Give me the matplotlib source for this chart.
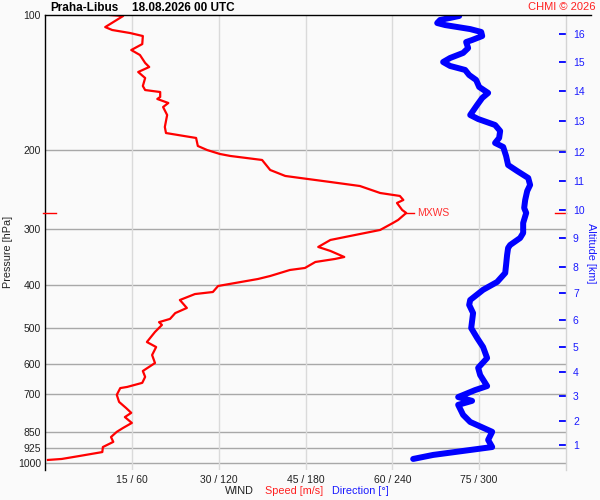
import numpy as np
import matplotlib
matplotlib.use('Agg')
import matplotlib.pyplot as plt
from matplotlib.lines import Line2D
from matplotlib.ticker import NullLocator
from matplotlib.transforms import blended_transform_factory

plt.rcParams['font.family'] = ['Liberation Sans', 'DejaVu Sans']

# ---------------- data ----------------
station = 'Praha-Libus'
obs_time = '18.08.2026 00 UTC'

speed_p = [100, 100.5, 106.4, 108.0, 109.7, 111.4, 116.1, 119.7, 122.8, 127.9,
           130.6, 134.0, 138.2, 144.0, 147.0, 148.5, 152.3, 153.9, 157.1, 160.4,
           167.1, 177.7, 183.3, 187.1, 188.0, 195.9, 200.0, 204.1, 206.2, 210.5,
           221.6, 228.5, 230.9, 235.7, 240.6, 249.4, 253.2, 258.5, 262.5, 272.1,
           276.3, 286.4, 290.9, 301.5, 311.0, 317.4, 329.0, 335.8, 346.4, 349.9,
           355.4, 366.5, 370.3, 381.9, 387.8, 402.0, 414.6, 419.0, 432.0, 450.0,
           462.0, 476.0, 484.0, 491.0, 509.0, 536.0, 550.0, 573.0, 597.0, 622.0,
           641.0, 661.0, 675.0, 679.0, 703.0, 729.0, 752.0, 771.0, 788.0, 812.0,
           833.0, 850.0, 873.0, 895.0, 919.0, 943.0, 962.0, 977.0, 982.0]
speed_ms = [11.2, 13.5, 10.4, 11.6, 14.7, 16.9, 16.8, 14.9, 16.4, 17.3,
            18.0, 16.1, 17.3, 16.9, 17.3, 19.9, 19.9, 19.4, 21.3, 20.4,
            21.1, 20.7, 20.9, 25.1, 26.1, 26.4, 28.0, 30.2, 32.0, 37.5,
            38.9, 41.5, 44.1, 49.3, 54.4, 57.9, 61.3, 61.9, 60.8, 61.7,
            62.4, 61.0, 60.1, 57.9, 52.7, 49.3, 47.2, 49.3, 51.7, 50.1,
            46.7, 44.9, 42.3, 38.9, 36.8, 29.9, 29.0, 25.9, 23.3, 24.5,
            22.5, 21.6, 19.7, 20.2, 19.0, 17.6, 19.2, 18.5, 19.0, 16.9,
            17.3, 16.8, 14.2, 13.0, 12.4, 12.8, 14.0, 14.9, 13.8, 15.0,
            13.5, 12.4, 11.4, 11.8, 10.0, 9.9, 6.0, 2.9, 0.5]

dir_p = [100.5, 102.6, 104.2, 105.3, 107.5, 109.1, 111.4, 113.7, 114.9, 118.5,
         121.5, 124.7, 127.3, 129.9, 132.6, 136.1, 139.6, 144.7, 149.2, 153.1,
         158.7, 167.1, 170.6, 175.9, 181.4, 188.0, 192.9, 196.9, 206.2, 216.0,
         222.7, 230.9, 239.3, 246.8, 258.5, 269.3, 276.3, 290.9, 306.2, 314.2,
         325.7, 330.7, 342.8, 360.9, 376.0, 393.8, 410.0, 432.0, 443.0, 462.0,
         499.0, 525.0, 550.0, 582.0, 612.0, 635.0, 672.0, 686.0, 711.0, 725.0,
         740.0, 779.0, 808.0, 850.0, 886.0, 919.0, 933.0, 957.0, 977.0]
dir_deg = [286.2, 273.0, 271.0, 276.5, 293.8, 301.4, 302.1, 295.1, 291.0, 292.4,
           288.9, 279.9, 275.1, 279.9, 290.3, 293.1, 297.9, 300.0, 306.2, 302.1,
           298.6, 293.8, 299.3, 311.0, 314.5, 313.8, 311.0, 316.6, 318.6, 320.0,
           326.2, 333.9, 335.2, 333.2, 331.8, 331.1, 332.5, 330.4, 330.4, 328.3,
           321.4, 320.0, 319.3, 318.6, 318.0, 312.4, 302.7, 293.8, 293.1, 295.8,
           294.5, 298.6, 302.7, 305.5, 299.3, 300.7, 305.5, 297.2, 285.5, 295.1,
           285.5, 288.9, 293.8, 309.0, 306.2, 309.0, 293.8, 268.2, 254.4]

pressure_ticks = [100, 200, 300, 400, 500, 600, 700, 850, 925, 1000]
speed_ticks = [15, 30, 45, 60, 75]
dir_ticks = [60, 120, 180, 240, 300]
alt_km = list(range(1, 17))
alt_p = [909, 804, 707, 625, 550, 479, 417, 365, 314, 272, 234, 202, 172, 148, 127, 110]
mxws_p = 277
mxws_speed = 62.4

# ---------------- figure ----------------
bg = '#fafafa'
W, H = 600, 500
fig = plt.figure(figsize=(W / 100, H / 100), dpi=100, facecolor=bg)
L, R, T, B = 45, 566, 15, 470
ax = fig.add_axes([L / W, 1 - B / H, (R - L) / W, (B - T) / H])
ax.set_facecolor(bg)
ax.set_yscale('log')
ax.set_ylim(1034, 100)
ax.set_xlim(0, 90)

for p in pressure_ticks[1:]:
    ax.axhline(p, color='#a8a8a8', lw=1.0, zorder=1)
for s in speed_ticks:
    ax.axvline(s, color='#dadada', lw=1.0, zorder=1)

ax.set_yticks(pressure_ticks)
ax.set_yticklabels([str(p) for p in pressure_ticks])
ax.yaxis.set_minor_locator(NullLocator())
ax.set_xticks(speed_ticks)
ax.set_xticklabels([f'{s} / {d}' for s, d in zip(speed_ticks, dir_ticks)])
ax.tick_params(axis='y', length=0, pad=3, labelsize=7.5, colors='#222222')
ax.tick_params(axis='x', length=0, pad=3.5, labelsize=7.5, colors='#222222')
for k in ['top', 'bottom', 'right']:
    ax.spines[k].set_visible(False)
ax.spines['left'].set_color('black')
ax.spines['left'].set_linewidth(1.0)

ax.plot(speed_ms, speed_p, color='red', lw=1.6, zorder=5, solid_joinstyle='round')

# MXWS marker
ax.plot([mxws_speed, mxws_speed + 1.3], [mxws_p, mxws_p], color='red', lw=1.0, zorder=5)
ax.text(mxws_speed + 1.8, mxws_p, 'MXWS', color='#ff3030', fontsize=7.5,
        va='center', ha='left', zorder=6)
tr = blended_transform_factory(ax.transAxes, ax.transData)
ax.plot([-0.004, 0.021], [mxws_p, mxws_p], color='red', lw=1.0, transform=tr, clip_on=False, zorder=6)
ax.plot([0.979, 1.0], [mxws_p, mxws_p], color='red', lw=1.0, transform=tr, clip_on=False, zorder=6)

# direction axis
axd = ax.twiny()
axd.set_xlim(0, 360)
axd.set_xticks([])
for k in axd.spines:
    axd.spines[k].set_visible(False)
axd.plot(dir_deg, dir_p, color='blue', lw=4.3, solid_capstyle='round',
         solid_joinstyle='round', zorder=5)

# altitude axis
axa = ax.twinx()
axa.set_yscale('log')
axa.set_ylim(1034, 100)
axa.set_yticks(alt_p)
axa.set_yticklabels([str(a) for a in alt_km])
axa.yaxis.set_minor_locator(NullLocator())
axa.tick_params(axis='y', direction='in', length=5, width=1.3, color='blue',
                labelcolor='#1a1aff', labelsize=7.5, pad=5)
for k in ['top', 'bottom', 'left']:
    axa.spines[k].set_visible(False)
axa.spines['right'].set_color('#d4d4d4')
axa.spines['right'].set_linewidth(1.0)

# top black line
fig.add_artist(Line2D([L / W, 591 / W], [1 - T / H, 1 - T / H], color='black', lw=1.0))

# texts
fig.text(50 / W, 1 - 11 / H, station, fontsize=8.5, fontweight='bold', va='baseline', ha='left')
fig.text(132 / W, 1 - 11 / H, obs_time, fontsize=8.5, fontweight='bold', va='baseline', ha='left')
fig.text(596 / W, 1 - 10.5 / H, 'CHMI \u00a9 2026', fontsize=8, color='#ff2020', va='baseline', ha='right')
fig.text(8 / W, 1 - 252 / H, 'Pressure [hPa]', fontsize=7.8, rotation=90, va='center', ha='center', color='#222222')
fig.text(591 / W, 1 - 253 / H, 'Altitude [km]', fontsize=7.8, rotation=270, va='center', ha='center', color='#1a1aff')
fig.text(225 / W, 1 - 494.5 / H, 'WIND', fontsize=7.8, va='baseline', ha='left', color='#222222')
fig.text(265 / W, 1 - 494.5 / H, 'Speed [m/s]', fontsize=7.8, va='baseline', ha='left', color='#ff2020')
fig.text(332 / W, 1 - 494.5 / H, 'Direction [\u00b0]', fontsize=7.8, va='baseline', ha='left', color='#1a1aff')

fig.savefig('out.png', dpi=100, facecolor=bg)
